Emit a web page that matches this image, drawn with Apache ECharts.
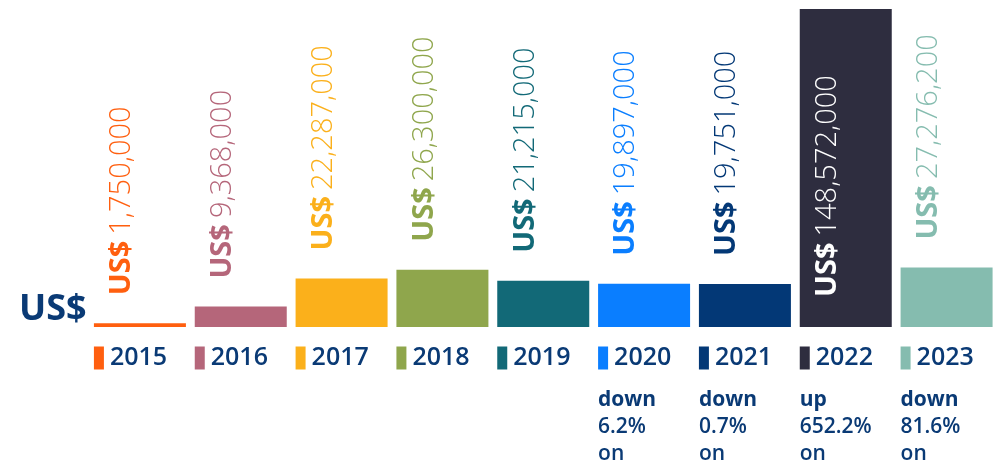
<!DOCTYPE html>
<html>
<head>
<meta charset="utf-8">
<script src="https://cdn.jsdelivr.net/npm/echarts@6/dist/echarts.min.js"></script>
<style>
  html, body { margin: 0; padding: 0; background: #fff; }
  #main { width: 997px; height: 465px; }
</style>
</head>
<body>
<div id="main"></div>
<script>
// data
var years = ['2015', '2016', '2017', '2018', '2019', '2020', '2021', '2022', '2023'];
var values = [1750000, 9368000, 22287000, 26300000, 21215000, 19897000, 19751000, 148572000, 27276200];
var colors = ['#FF5F0F', '#B5667A', '#FBB01B', '#8FA64C', '#126977', '#0A7EFF', '#033876', '#2E2D3F', '#85BCAF'];
var changeDir = ['', '', '', '', '', 'down', 'down', 'up', 'down'];
var changePct = ['', '', '', '', '', '6.2%', '0.7%', '652.2%', '81.6%'];

var navy = '#0A3A75';
var chart = echarts.init(document.getElementById('main'));

// rich styles for the x axis labels, one swatch per year
var axisRich = {
  y: { fontFamily: 'Open Sans', fontSize: 25, fontWeight: 600, color: navy, lineHeight: 24, padding: [0, 0, 0, 6], align: 'left' },
  sp: { fontSize: 10, lineHeight: 17, align: 'left' },
  d: { fontFamily: 'Open Sans', fontSize: 21, fontWeight: 'bold', color: navy, lineHeight: 27, align: 'left' },
  p: { fontFamily: 'Open Sans', fontSize: 21, fontWeight: 600, color: navy, lineHeight: 27, align: 'left' }
};
colors.forEach(function (c, i) {
  axisRich['s' + i] = { width: 10, height: 23, backgroundColor: c, align: 'left' };
});

var barData = values.map(function (v, i) {
  var item = {
    value: v,
    itemStyle: { color: colors[i] },
    label: { color: colors[i] }
  };
  if (i == 7) {
    // tallest bar runs off the top, label sits inside it
    item.label = { color: '#fff', position: 'insideBottom', distance: 30 };
  }
  return item;
});

var option = {
  animation: false,
  grid: { left: 89.5, top: 9, width: 909, height: 318 },
  xAxis: {
    type: 'category',
    data: years,
    axisLine: { show: false },
    axisTick: { show: false },
    axisLabel: {
      interval: 0,
      margin: 19,
      width: 92,
      align: 'center',
      verticalAlign: 'top',
      rich: axisRich,
      formatter: function (val, idx) {
        var s = '{s' + idx + '|}{y|' + val + '}';
        if (changeDir[idx]) {
          s += '\n{sp| }\n{d|' + changeDir[idx] + '}\n{p|' + changePct[idx] + '}\n{p|on}';
        }
        return s;
      }
    }
  },
  yAxis: {
    type: 'value',
    min: 0,
    max: 146000000,
    show: false
  },
  graphic: [{
    type: 'text',
    left: 19,
    top: 292,
    style: { text: 'US$', fontFamily: 'Open Sans', fontSize: 36, fontWeight: 'bold', fill: navy }
  }],
  series: [{
    type: 'bar',
    barWidth: 92,
    clip: true,
    data: barData,
    label: {
      show: true,
      position: 'top',
      distance: 28,
      rotate: 90,
      align: 'left',
      verticalAlign: 'middle',
      offset: [0, -18],
      formatter: function (p) {
        return '{b|US$}{v|' + p.value.toLocaleString('en-US') + '}';
      },
      rich: {
        b: { fontFamily: 'Open Sans', fontSize: 29, fontWeight: 'bold', padding: [0, 6, 0, 0] },
        v: { fontFamily: 'Open Sans', fontSize: 29, fontWeight: 300 }
      }
    }
  }]
};
chart.setOption(option);
</script>
</body>
</html>
